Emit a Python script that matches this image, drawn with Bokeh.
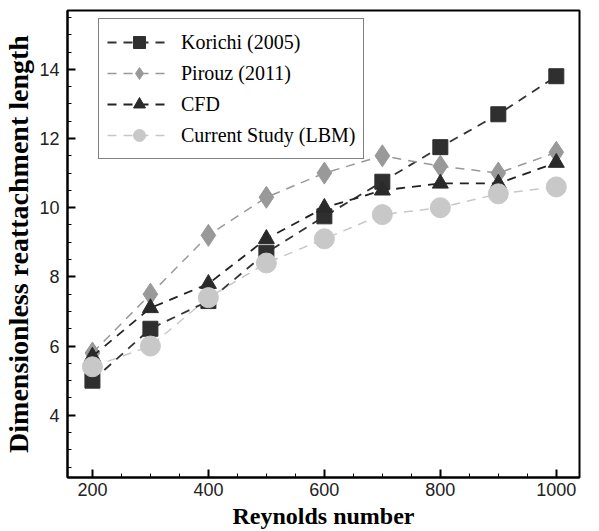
from bokeh.plotting import figure
from bokeh.models import Range1d, Legend, LegendItem, FixedTicker
from bokeh.embed import file_html
from bokeh.resources import INLINE

re_vals = [200, 300, 400, 500, 600, 700, 800, 900, 1000]
korichi = [5.0, 6.5, 7.3, 8.7, 9.75, 10.75, 11.75, 12.7, 13.8]
pirouz = [5.8, 7.5, 9.2, 10.3, 11.0, 11.5, 11.2, 11.0, 11.6]
cfd = [5.7, 7.1, 7.8, 9.1, 10.0, 10.5, 10.7, 10.7, 11.3]
lbm = [5.4, 6.0, 7.4, 8.4, 9.1, 9.8, 10.0, 10.4, 10.6]
x_ticks = [200, 400, 600, 800, 1000]
y_ticks = [4, 6, 8, 10, 12, 14]

p = figure(width=591, height=531, output_backend="svg", toolbar_location=None,
           x_range=Range1d(157, 1040), y_range=Range1d(2.2, 15.7),
           min_border_left=67, min_border_top=10, min_border_right=12, min_border_bottom=53)
p.grid.visible = False
p.outline_line_color = "black"
p.outline_line_width = 2
p.background_fill_color = "white"
p.border_fill_color = "white"

for ax in (p.xaxis[0], p.yaxis[0]):
    ax.axis_line_width = 2
    ax.axis_line_color = "black"
    ax.major_tick_in = 8
    ax.major_tick_out = 0
    ax.minor_tick_in = 4
    ax.minor_tick_out = 0
    ax.major_tick_line_width = 2
    ax.minor_tick_line_width = 1
    ax.major_label_text_font = "Liberation Sans"
    ax.major_label_text_font_size = "18px"
    ax.major_label_text_color = "#222222"
    ax.axis_label_text_font = "Liberation Serif"
    ax.axis_label_text_font_style = "bold"
    ax.axis_label_text_color = "black"

p.xaxis.axis_label_text_font_size = "24px"
p.yaxis.axis_label_text_font_size = "28px"
p.xaxis.ticker = FixedTicker(ticks=x_ticks, minor_ticks=list(range(150, 1050, 50)))
p.yaxis.ticker = FixedTicker(ticks=y_ticks, minor_ticks=[v / 2 for v in range(4, 32)])
p.xaxis.axis_label = "Reynolds number"
p.yaxis.axis_label = "Dimensionless reattachment length"
p.xaxis.major_label_standoff = 5
p.yaxis.major_label_standoff = 8
p.xaxis.axis_label_standoff = 4
p.yaxis.axis_label_standoff = 2

series = [
    ("Korichi (2005)", korichi, "#333333", "#2f2f2f", "square", 15, "9 7", 1.8),
    ("Pirouz (2011)", pirouz, "#999999", "#999999", "diamond", 22, "9 7", 1.5),
    ("CFD", cfd, "#222222", "#2a2a2a", "triangle", 16, "9 7", 1.8),
    ("Current Study (LBM)", lbm, "#c8c8c8", "#c8c8c8", "circle", 20, "9 7", 1.5),
]

items = []
for name, ys, lc, mc, marker, size, dash, lw in series:
    l = p.line(re_vals, ys, line_color=lc, line_dash=dash, line_width=lw)
    s = p.scatter(re_vals, ys, marker=marker, size=size, fill_color=mc, line_color=mc)
    items.append(LegendItem(label=name, renderers=[l, s]))

legend = Legend(items=items, location=(31, 318))
legend.label_text_font = "Liberation Serif"
legend.label_text_font_size = "20px"
legend.label_text_color = "black"
legend.border_line_color = "black"
legend.border_line_width = 1.5
legend.glyph_width = 64
legend.glyph_height = 30
legend.label_height = 30
legend.spacing = 1
legend.padding = 8
legend.margin = 0
legend.label_standoff = 10
p.add_layout(legend)

open("out.html", "w").write(file_html(p, INLINE))
